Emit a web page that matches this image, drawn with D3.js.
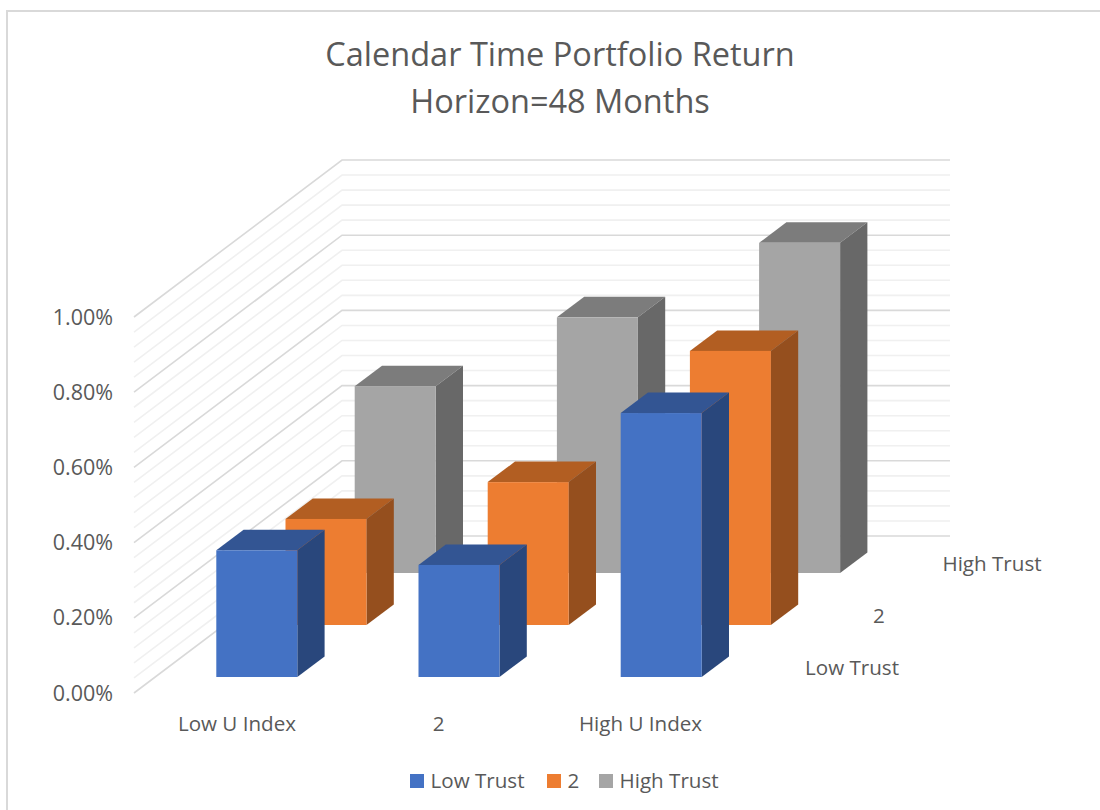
<!DOCTYPE html>
<html>
<head>
<meta charset="utf-8">
<title>Calendar Time Portfolio Return</title>
<script src="https://cdn.jsdelivr.net/npm/d3@7"></script>
<style>
  html, body { margin: 0; padding: 0; background: #fff; }
  svg { display: block; }
  text { font-family: "Open Sans", sans-serif; fill: #595959; }
</style>
</head>
<body>
<svg id="chart" width="1100" height="810"></svg>
<script>
var titleLines = ["Calendar Time Portfolio Return", "Horizon=48 Months"];
var categories = ["Low U Index", "2", "High U Index"];
var seriesNames = ["Low Trust", "2 ", "High Trust"];   // the "2 " keeps it apart from the category "2"
var lowTrust = [0.337, 0.298, 0.702];
var midTrust = [0.282, 0.380, 0.729];
var highTrust = [0.497, 0.680, 0.878];
var seriesValues = [lowTrust, midTrust, highTrust];
var yTicks = [0, 0.2, 0.4, 0.6, 0.8, 1.0];
var minorTicks = d3.range(0, 26).map(function(i){ return i * 0.04; });

var frontColors = ["#4472c4", "#ed7d31", "#a5a5a5"];
var topColors = ["#335593", "#b25e22", "#7c7c7c"];
var sideColors = ["#29477c", "#954f1e", "#686868"];

var svg = d3.select("#chart");

// chart frame
svg.append("path").attr("d", "M1100,11H7V810").attr("fill", "none").attr("stroke", "#d9d9d9").attr("stroke-width", 2);

// title
svg.selectAll(".title").data(titleLines).enter().append("text")
    .attr("class", "title")
    .attr("x", 560).attr("y", function(d, i){ return 66 + i * 47; })
    .attr("text-anchor", "middle").attr("font-size", 32.5).text(function(d){ return d; });

// height of a value in pixels, and the floor of the box
var h = d3.scaleLinear().domain([0, 1]).range([0, 376]);
var floorFront = {x: 134, y: 693}, floorBack = {x: 342, y: 536};

// walls
var walls = svg.append("g");
function wallLine(v) {
    return "M" + floorFront.x + "," + (floorFront.y - h(v)) +
        "L" + floorBack.x + "," + (floorBack.y - h(v)) + "H950";
}
function isMajor(v) { return Math.abs(v * 5 - Math.round(v * 5)) < 1e-6; }
walls.selectAll("path").data(minorTicks.filter(function(v){ return !isMajor(v); })).enter().append("path")
    .attr("d", wallLine).attr("fill", "none").attr("stroke", "#f0f0f0").attr("stroke-width", 1.6);
walls.selectAll("path.major").data(yTicks).enter().append("path")
    .attr("class", "major")
    .attr("d", wallLine).attr("fill", "none").attr("stroke", "#d9d9d9").attr("stroke-width", 1.6);

// bars, back row first
var x = d3.scalePoint().domain(categories).range([216.3, 620.7]);
var rowY = d3.scalePoint().domain(seriesNames).range([677, 573]);
var rowX = d3.scalePoint().domain(seriesNames).range([0, 138.4]);
var barW = 81, sideX = 27.3, sideY = 20.5;

var barData = [];
seriesNames.forEach(function(s, si){
    categories.forEach(function(c, ci){
        barData.push({series: s, si: si, cat: c, value: seriesValues[si][ci]});
    });
});
barData.sort(function(a, b){ return b.si - a.si; });

var bars = svg.selectAll("g.bar").data(barData).enter().append("g").attr("class", "bar");
bars.append("path").attr("fill", function(d){ return topColors[d.si]; })
    .attr("d", function(d){
        var l = x(d.cat) + rowX(d.series), t = rowY(d.series) - h(d.value);
        return "M" + l + "," + t + "h" + barW + "l" + sideX + "," + (-sideY) + "h" + (-barW) + "Z";
    });
bars.append("path").attr("fill", function(d){ return sideColors[d.si]; })
    .attr("d", function(d){
        var l = x(d.cat) + rowX(d.series) + barW, t = rowY(d.series) - h(d.value);
        return "M" + l + "," + t + "V" + rowY(d.series) + "l" + sideX + "," + (-sideY) + "V" + (t - sideY) + "Z";
    });
bars.append("rect").attr("fill", function(d){ return frontColors[d.si]; })
    .attr("x", function(d){ return x(d.cat) + rowX(d.series); })
    .attr("y", function(d){ return rowY(d.series) - h(d.value); })
    .attr("width", barW)
    .attr("height", function(d){ return h(d.value); });

// value axis labels
var fmt = d3.format(".2f");
svg.selectAll(".ylab").data(yTicks).enter().append("text")
    .attr("class", "ylab")
    .attr("x", 113).attr("y", function(d){ return floorFront.y - h(d) + 7.5; })
    .attr("text-anchor", "end").attr("font-size", 21.5)
    .text(function(d){ return fmt(d) + "%"; });

// category labels
var catLabelX = d3.scalePoint().domain(categories).range([237, 640.5]);
svg.selectAll(".xlab").data(categories).enter().append("text")
    .attr("class", "xlab")
    .attr("x", function(d){ return catLabelX(d); }).attr("y", 731)
    .attr("text-anchor", "middle").attr("font-size", 20.6).text(function(d){ return d; });

// depth axis labels
var depthLabelX = d3.scaleOrdinal().domain(seriesNames).range([852, 879, 992]);
var depthLabelY = d3.scalePoint().domain(seriesNames).range([675, 571]);
svg.selectAll(".zlab").data(seriesNames).enter().append("text")
    .attr("class", "zlab")
    .attr("x", function(d){ return depthLabelX(d); }).attr("y", function(d){ return depthLabelY(d); })
    .attr("text-anchor", "middle").attr("font-size", 20.6).text(function(d){ return d.trim(); });

// legend
var legendX = d3.scaleOrdinal().domain(seriesNames).range([410, 547, 599]);
var legend = svg.selectAll(".legend").data(seriesNames).enter().append("g").attr("class", "legend")
    .attr("transform", function(d){ return "translate(" + legendX(d) + ",774)"; });
legend.append("rect").attr("width", 14).attr("height", 14)
    .attr("fill", function(d, i){ return frontColors[i]; });
legend.append("text").attr("x", 20.5).attr("y", 14).attr("font-size", 20.6).text(function(d){ return d.trim(); });
</script>
</body>
</html>
